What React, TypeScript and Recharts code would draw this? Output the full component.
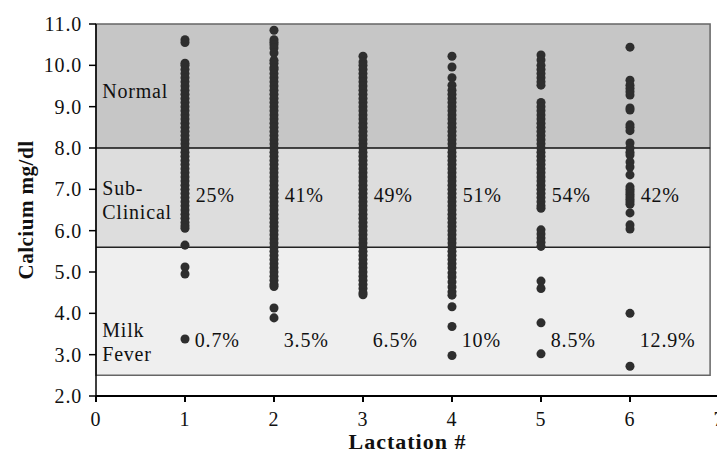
import {
  ScatterChart,
  Scatter,
  XAxis,
  YAxis,
  ZAxis,
  ReferenceArea,
  ReferenceLine,
  ReferenceDot,
} from "recharts";

const SERIF = "'Liberation Serif', 'Times New Roman', serif";

// calcium readings (mg/dl) per lactation
const lact1 = [
  10.62, 10.55, 10.05, 10.0, 9.9, 9.8, 9.7, 9.6, 9.5, 9.4, 9.3, 9.2, 9.1, 9.0,
  8.9, 8.8, 8.7, 8.6, 8.5, 8.4, 8.3, 8.2, 8.1, 8.0, 7.9, 7.8, 7.7, 7.6, 7.5,
  7.4, 7.3, 7.2, 7.1, 7.0, 6.9, 6.8, 6.7, 6.6, 6.5, 6.4, 6.3, 6.2, 6.12, 6.06,
  5.65, 5.12, 4.95, 3.38,
];
const lact2 = [
  10.85, 10.62, 10.56, 10.5, 10.42, 10.3, 10.12, 10.05, 9.95, 9.9, 9.8, 9.7,
  9.6, 9.5, 9.4, 9.3, 9.2, 9.1, 9.0, 8.9, 8.8, 8.7, 8.6, 8.5, 8.4, 8.3, 8.2,
  8.1, 8.0, 7.9, 7.8, 7.7, 7.6, 7.5, 7.4, 7.3, 7.2, 7.1, 7.0, 6.9, 6.8, 6.7,
  6.6, 6.5, 6.4, 6.3, 6.2, 6.1, 6.0, 5.9, 5.8, 5.7, 5.6, 5.5, 5.4, 5.3, 5.2,
  5.1, 5.0, 4.9, 4.8, 4.7, 4.65, 4.13, 3.89,
];
const lact3 = [
  10.22, 10.08, 10.0, 9.9, 9.8, 9.7, 9.6, 9.5, 9.4, 9.3, 9.2, 9.1, 9.0, 8.9,
  8.8, 8.7, 8.6, 8.5, 8.4, 8.3, 8.2, 8.1, 8.0, 7.9, 7.8, 7.7, 7.6, 7.5, 7.4,
  7.3, 7.2, 7.1, 7.0, 6.9, 6.8, 6.7, 6.6, 6.5, 6.4, 6.3, 6.2, 6.1, 6.0, 5.9,
  5.8, 5.7, 5.6, 5.5, 5.4, 5.3, 5.2, 5.1, 5.0, 4.9, 4.8, 4.7, 4.6, 4.5, 4.45,
];
const lact4 = [
  10.22, 9.96, 9.7, 9.52, 9.4, 9.3, 9.2, 9.1, 9.0, 8.9, 8.8, 8.7, 8.6, 8.5,
  8.4, 8.3, 8.2, 8.1, 8.0, 7.9, 7.8, 7.7, 7.6, 7.5, 7.4, 7.3, 7.2, 7.1, 7.0,
  6.9, 6.8, 6.7, 6.6, 6.5, 6.4, 6.3, 6.2, 6.1, 6.0, 5.9, 5.8, 5.7, 5.6, 5.5,
  5.4, 5.3, 5.2, 5.1, 4.98, 4.88, 4.76, 4.64, 4.52, 4.44, 4.16, 3.68, 2.98,
];
const lact5 = [
  10.25, 10.13, 10.0, 9.9, 9.8, 9.7, 9.6, 9.52, 9.1, 9.0, 8.9, 8.8, 8.7, 8.6,
  8.5, 8.4, 8.3, 8.2, 8.1, 8.0, 7.9, 7.8, 7.7, 7.6, 7.5, 7.4, 7.3, 7.2, 7.1,
  7.0, 6.9, 6.8, 6.7, 6.6, 6.54, 6.02, 5.92, 5.82, 5.72, 5.62, 4.78, 4.6, 3.77,
  3.02,
];
const lact6 = [
  10.44, 9.64, 9.52, 9.44, 9.36, 9.28, 8.97, 8.92, 8.56, 8.5, 8.42, 8.12, 8.0,
  7.9, 7.83, 7.66, 7.54, 7.35, 7.06, 7.0, 6.94, 6.88, 6.82, 6.76, 6.7, 6.64,
  6.43, 6.14, 6.04, 4.0, 2.72,
];

const lactations = [lact1, lact2, lact3, lact4, lact5, lact6];
const xTicks = [0, 1, 2, 3, 4, 5, 6, 7];
const yTicks = [2, 3, 4, 5, 6, 7, 8, 9, 10, 11];

const subClinicalPct = ["25%", "41%", "49%", "51%", "54%", "42%"];
const milkFeverPct = ["0.7%", "3.5%", "6.5%", "10%", "8.5%", "12.9%"];

// zone limits
const normalLow = 8.0;
const subClinicalLow = 5.6;
const milkFeverLow = 2.5;
const boxRight = 6.9;

const points = lactations.flatMap((vals, i) =>
  vals.map((v) => ({ x: i + 1, y: v }))
);

const textLabel = (text: string, size = 20) => (props: any) => {
  const vb = props.viewBox || {};
  return (
    <text
      x={vb.x}
      y={vb.y}
      fill="#111"
      fontSize={size}
      fontFamily={SERIF}
      letterSpacing={0.8}
      dominantBaseline="central"
    >
      {text}
    </text>
  );
};

const zoneLabels = [
  { text: "Normal", x: 0.07, y: 9.38 },
  { text: "Sub-", x: 0.07, y: 7.03 },
  { text: "Clinical", x: 0.07, y: 6.45 },
  { text: "Milk", x: 0.07, y: 3.6 },
  { text: "Fever", x: 0.07, y: 3.02 },
];

const App = () => {
  return (
    <div
      style={{
        position: "absolute",
        left: 0,
        top: 0,
        width: 717,
        height: 453,
        overflow: "hidden",
        background: "#fff",
      }}
    >
      <ScatterChart
        width={760}
        height={453}
        margin={{ top: 24, right: 41, bottom: 0, left: 0 }}
        style={{ fontFamily: SERIF }}
      >
        <ReferenceArea
          x1={0}
          x2={boxRight}
          y1={normalLow}
          y2={11}
          fill="#c6c6c6"
          fillOpacity={1}
          stroke="none"
        />
        <ReferenceArea
          x1={0}
          x2={boxRight}
          y1={subClinicalLow}
          y2={normalLow}
          fill="#dddddd"
          fillOpacity={1}
          stroke="none"
        />
        <ReferenceArea
          x1={0}
          x2={boxRight}
          y1={milkFeverLow}
          y2={subClinicalLow}
          fill="#efefef"
          fillOpacity={1}
          stroke="none"
        />
        <ReferenceArea
          x1={0}
          x2={boxRight}
          y1={milkFeverLow}
          y2={11}
          fill="none"
          stroke="#666"
          strokeWidth={1.5}
        />
        <ReferenceLine
          segment={[
            { x: 0, y: normalLow },
            { x: boxRight, y: normalLow },
          ]}
          stroke="#111"
          strokeWidth={1.5}
        />
        <ReferenceLine
          segment={[
            { x: 0, y: subClinicalLow },
            { x: boxRight, y: subClinicalLow },
          ]}
          stroke="#222"
          strokeWidth={1.5}
        />
        <XAxis
          type="number"
          dataKey="x"
          domain={[0, 7]}
          ticks={xTicks}
          allowDataOverflow
          height={57}
          stroke="#000"
          strokeWidth={2}
          tickSize={6}
          tickMargin={10}
          tick={{ fill: "#111", fontSize: 20, fontFamily: SERIF, letterSpacing: 0.8 }}
          label={{
            value: "Lactation #",
            position: "insideBottom",
            offset: 4,
            fill: "#111",
            fontSize: 22,
            fontWeight: "bold",
            fontFamily: SERIF,
            letterSpacing: 1,
          }}
        />
        <YAxis
          type="number"
          dataKey="y"
          domain={[2, 11]}
          ticks={yTicks}
          allowDataOverflow
          width={96}
          stroke="#000"
          strokeWidth={1.5}
          tickSize={7}
          tickMargin={7}
          tickFormatter={(v: number) => v.toFixed(1)}
          tick={{ fill: "#111", fontSize: 20, fontFamily: SERIF, letterSpacing: 0.8 }}
          label={{
            content: (props: any) => {
              const vb = props.viewBox || {};
              const cx = 26;
              const cy = vb.y + vb.height / 2;
              return (
                <text
                  x={cx}
                  y={cy}
                  transform={`rotate(-90 ${cx} ${cy})`}
                  textAnchor="middle"
                  dominantBaseline="central"
                  fill="#111"
                  fontSize={21}
                  fontWeight="bold"
                  fontFamily={SERIF}
                  letterSpacing={0.5}
                >
                  Calcium mg/dl
                </text>
              );
            },
          }}
        />
        <ZAxis range={[34, 34]} />
        <Scatter
          data={points}
          fill="#2e2e2e"
          shape="circle"
          isAnimationActive={false}
        />
        {zoneLabels.map((z) => (
          <ReferenceDot
            key={z.text}
            x={z.x}
            y={z.y}
            r={0}
            fill="none"
            stroke="none"
            label={{ content: textLabel(z.text) }}
          />
        ))}
        {subClinicalPct.map((t, i) => (
          <ReferenceDot
            key={"s" + t}
            x={i + 1.12}
            y={6.86}
            r={0}
            fill="none"
            stroke="none"
            label={{ content: textLabel(t) }}
          />
        ))}
        {milkFeverPct.map((t, i) => (
          <ReferenceDot
            key={"m" + t}
            x={i + 1.11}
            y={3.35}
            r={0}
            fill="none"
            stroke="none"
            label={{ content: textLabel(t) }}
          />
        ))}
      </ScatterChart>
    </div>
  );
};

export default App;
